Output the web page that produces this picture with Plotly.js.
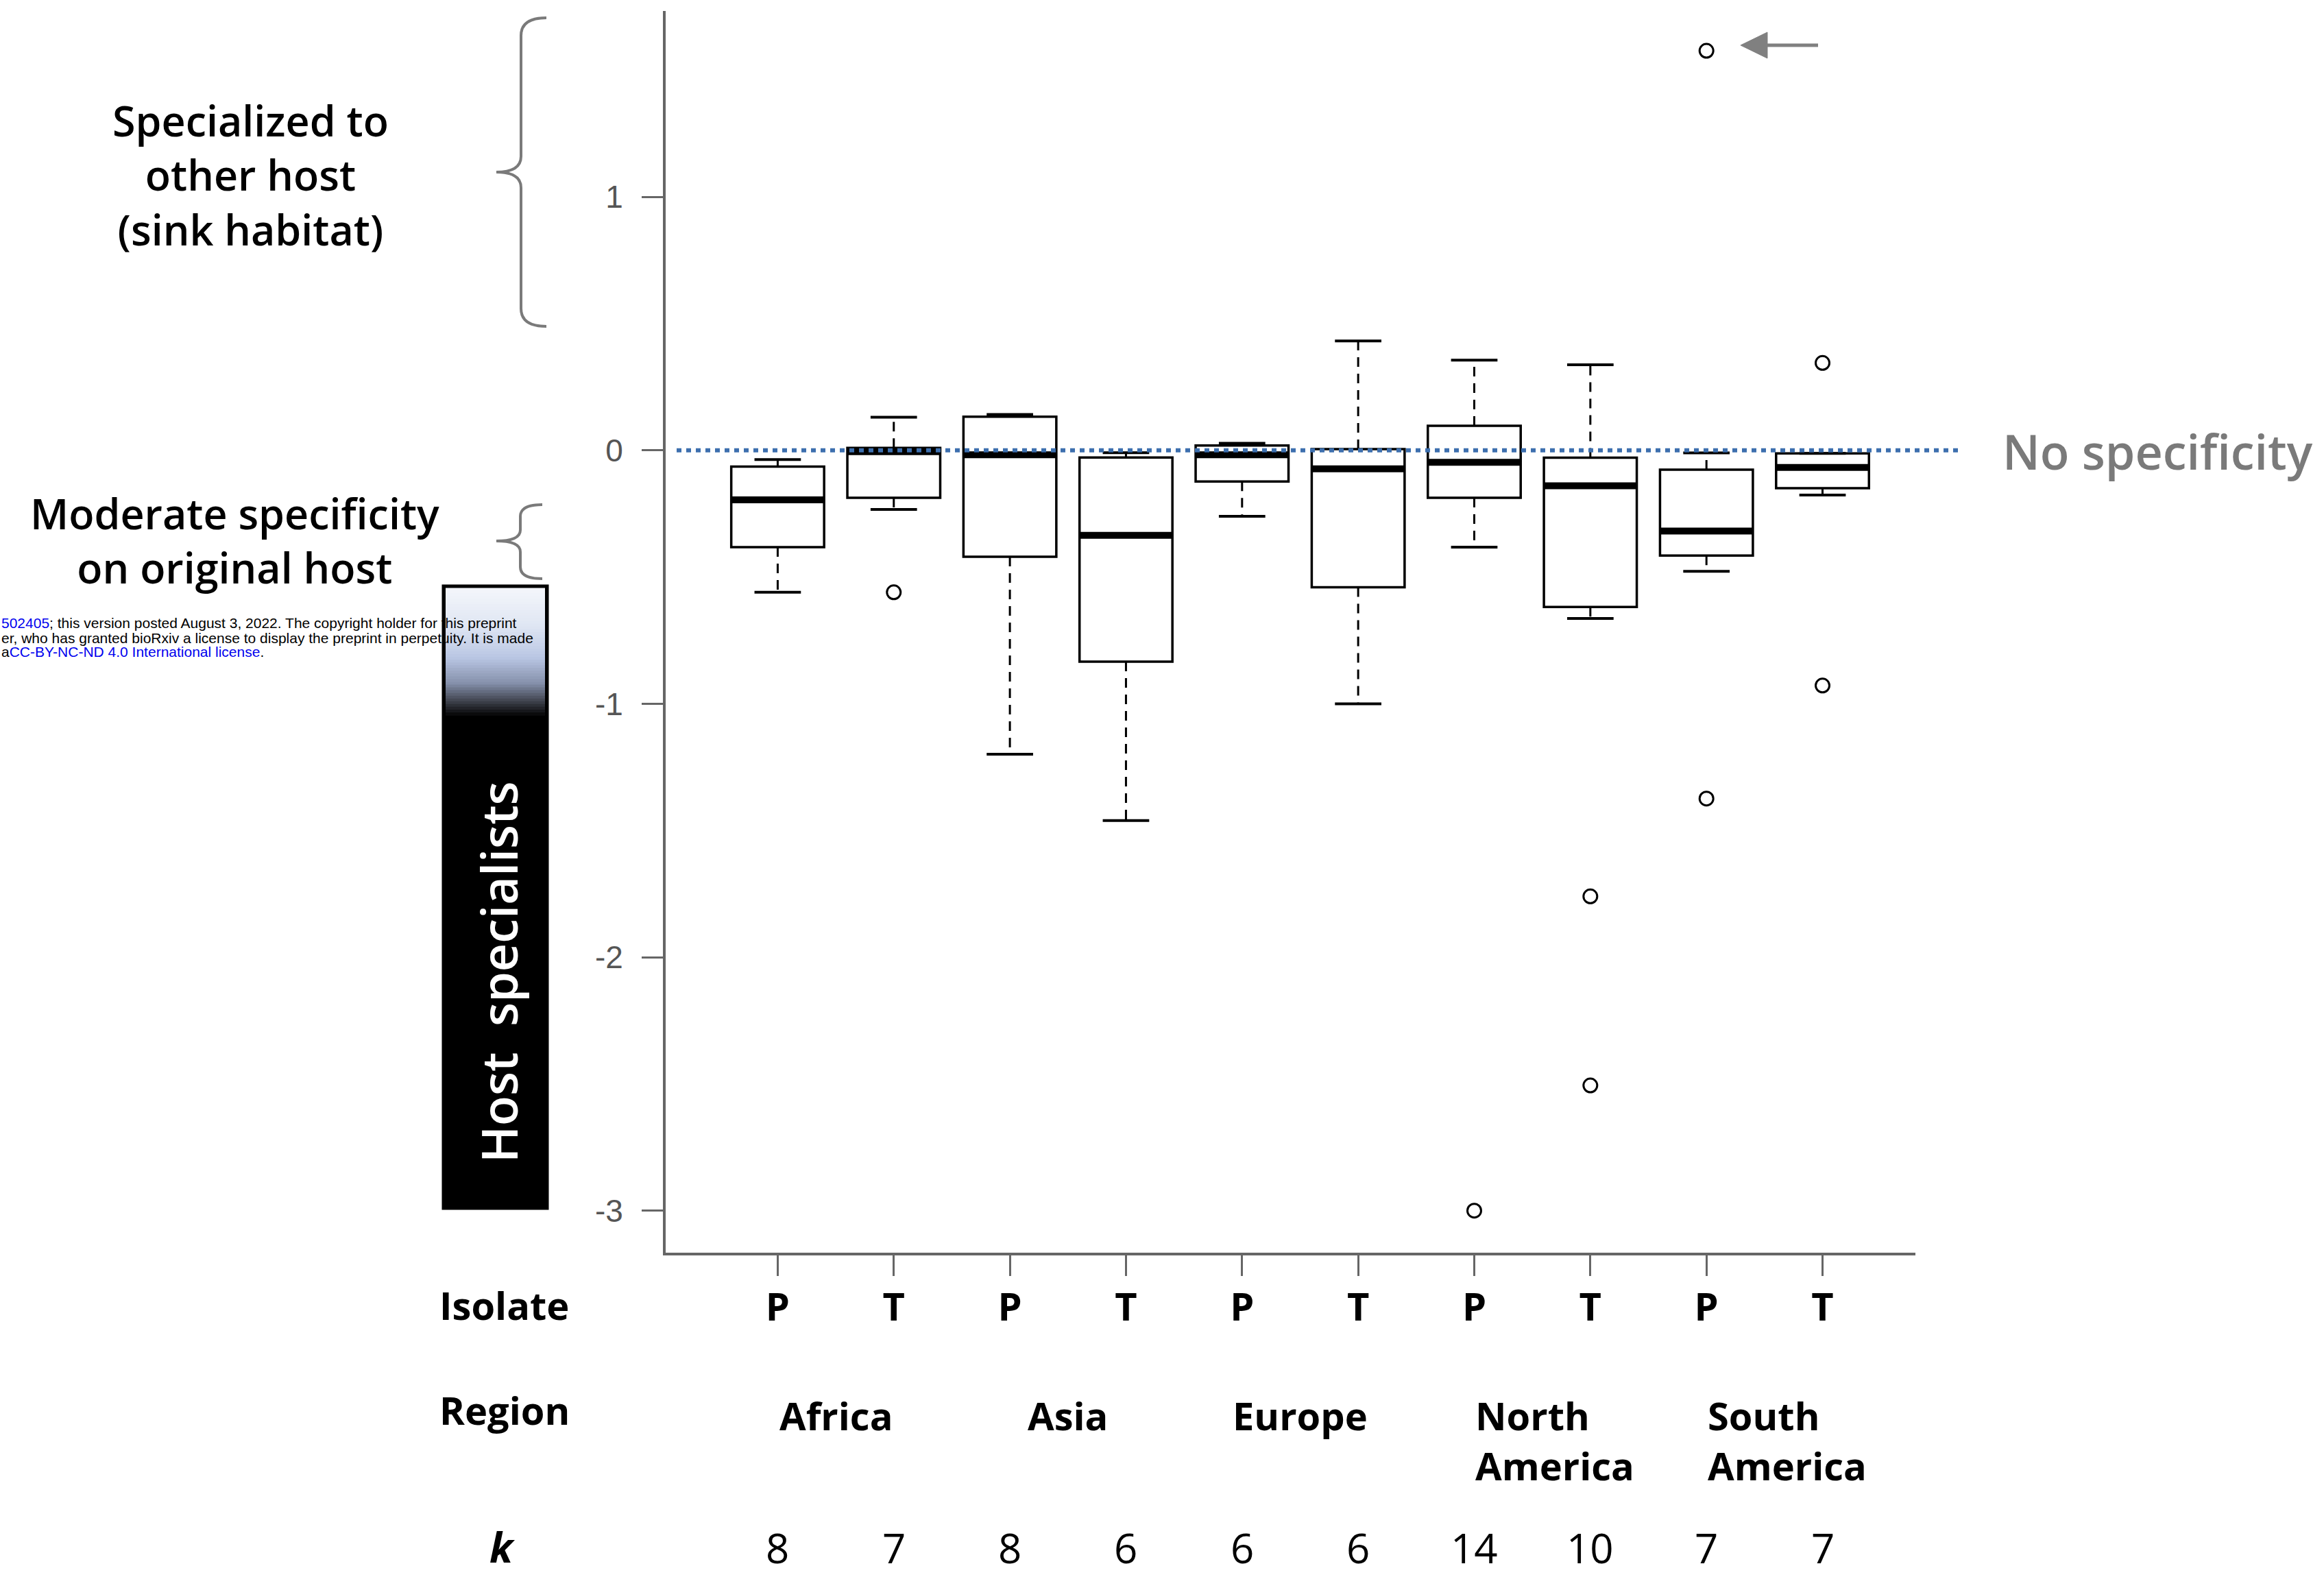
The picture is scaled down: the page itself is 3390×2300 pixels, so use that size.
<!DOCTYPE html>
<html>
<head>
<meta charset="utf-8">
<script src="https://cdn.plot.ly/plotly-3.0.1.min.js"></script>
<style>html,body{margin:0;padding:0;background:#fff;}#chart{width:3390px;height:2300px;}</style>
</head>
<body>
<div id="chart"></div>
<script>
// ---------------- data ----------------
const isolates = ['P','T','P','T','P','T','P','T','P','T'];
const regions = ['Africa','Asia','Europe','North<br>America','South<br>America'];
const kValues = [8,7,8,6,6,6,14,10,7,7];
const lowerWhisker = [-0.56,-0.233,-1.199,-1.461,-0.26,-1.0,-0.382,-0.663,-0.477,-0.176];
const q1Values     = [-0.382,-0.187,-0.42,-0.834,-0.123,-0.54,-0.187,-0.618,-0.415,-0.149];
const medianValues = [-0.195,-0.005,-0.017,-0.335,-0.017,-0.073,-0.047,-0.14,-0.318,-0.067];
const q3Values     = [-0.064,0.01,0.133,-0.028,0.019,0.005,0.097,-0.029,-0.076,-0.012];
const upperWhisker = [-0.036,0.131,0.142,-0.009,0.028,0.432,0.356,0.338,-0.01,-0.012];
const outlierBox   = [2,7,8,8,9,9,10,10];
const outlierValue = [-0.56,-3.0,-1.76,-2.506,1.577,-1.374,0.345,-0.928];
const yTickValues = [-3,-2,-1,0,1];
const yTickLabels = ['-3','-2','-1','0','1'];

// ---------------- geometry helpers (layout only) ----------------
const W = 3390, H = 2300, L = 971, R = 2794, T = 16, B = 1827;
const px = X => (X - L) / (R - L);
const py = Y => (B - Y) / (B - T);
const pos = isolates.map((_, i) => i + 1);
const halfBox = 0.4, halfCap = 0.2;

const FONT = 'Open Sans, Noto Sans, sans-serif';

// ---------------- traces ----------------
const boxTrace = {
  type: 'box', x: pos, q1: q1Values, median: medianValues, q3: q3Values,
  lowerfence: q1Values, upperfence: q3Values, width: 2 * halfBox,
  fillcolor: '#ffffff', line: {color: '#000000', width: 3.5},
  whiskerwidth: 0, boxpoints: false, hoverinfo: 'skip', showlegend: false
};

const wx = [], wy = [], cx = [], cy = [], mx = [], my = [];
pos.forEach((p, i) => {
  wx.push(p, p, null, p, p, null);
  wy.push(q3Values[i], upperWhisker[i], null, q1Values[i], lowerWhisker[i], null);
  cx.push(p - halfCap, p + halfCap, null, p - halfCap, p + halfCap, null);
  cy.push(upperWhisker[i], upperWhisker[i], null, lowerWhisker[i], lowerWhisker[i], null);
  mx.push(p - halfBox, p + halfBox, null);
  my.push(medianValues[i], medianValues[i], null);
});

const whiskers = {type: 'scatter', mode: 'lines', x: wx, y: wy, connectgaps: false,
  line: {color: '#000', width: 3, dash: '14px,10px'}, hoverinfo: 'skip', showlegend: false};
const caps = {type: 'scatter', mode: 'lines', x: cx, y: cy, connectgaps: false,
  line: {color: '#000', width: 4}, hoverinfo: 'skip', showlegend: false};
const medians = {type: 'scatter', mode: 'lines', x: mx, y: my, connectgaps: false,
  line: {color: '#000', width: 10}, hoverinfo: 'skip', showlegend: false};
const outliers = {type: 'scatter', mode: 'markers', x: outlierBox, y: outlierValue,
  marker: {symbol: 'circle-open', size: 20, color: '#000', line: {width: 3, color: '#000'}},
  hoverinfo: 'skip', showlegend: false, cliponaxis: false};

// ---------------- shapes ----------------
const shapes = [];
function pathFromPixels(pts) {
  return pts.map(s => s.replace(/(-?\d+(?:\.\d+)?),(-?\d+(?:\.\d+)?)/g,
    (m, a, b) => px(+a).toFixed(5) + ',' + py(+b).toFixed(5))).join(' ');
}
// curly braces
const braceStyle = {type: 'path', xref: 'paper', yref: 'paper', line: {color: '#7a7a7a', width: 4}, fillcolor: 'rgba(0,0,0,0)'};
shapes.push(Object.assign({}, braceStyle, {path: pathFromPixels([
  'M797,26', 'Q760,26 760,52', 'L760,228', 'Q760,251 724,251', 'Q760,251 760,274', 'L760,450', 'Q760,476 797,476'])}));
shapes.push(Object.assign({}, braceStyle, {path: pathFromPixels([
  'M791,736', 'Q759,736 759,753', 'L759,773', 'Q759,789 724,789', 'Q759,789 759,805', 'L759,827', 'Q759,844 791,844'])}));

// black bar with gradient top
shapes.push({type: 'rect', xref: 'paper', yref: 'paper', x0: px(645), x1: px(800), y0: py(853), y1: py(1764),
  fillcolor: '#000', line: {width: 0}});
const gradStops = [[0,'#f4f6fb'],[0.3,'#dfe6f3'],[0.55,'#b9c6e3'],[0.75,'#8590ab'],[0.9,'#3a3d47'],[1,'#050505']];
function hex2rgb(h){return [1,3,5].map(k=>parseInt(h.substr(k,2),16));}
function gradColor(t){
  for (let s = 1; s < gradStops.length; s++) {
    if (t <= gradStops[s][0]) {
      const a = gradStops[s-1], b = gradStops[s];
      const f = (t - a[0]) / (b[0] - a[0]);
      const ca = hex2rgb(a[1]), cb = hex2rgb(b[1]);
      return 'rgb(' + ca.map((v, k) => Math.round(v + (cb[k] - v) * f)).join(',') + ')';
    }
  }
  return gradStops[gradStops.length-1][1];
}
const gTop = 857, gBot = 1043, nBands = 46;
for (let b = 0; b < nBands; b++) {
  const y0 = gTop + (gBot - gTop) * b / nBands;
  const y1 = gTop + (gBot - gTop) * (b + 1) / nBands + 0.8;
  shapes.push({type: 'rect', xref: 'paper', yref: 'paper', x0: px(650), x1: px(795), y0: py(y0), y1: py(y1),
    fillcolor: gradColor((b + 0.5) / nBands), line: {width: 0}});
}
shapes.push({type: 'rect', xref: 'paper', yref: 'paper', x0: px(647), x1: px(798), y0: py(855), y1: py(1762),
  fillcolor: 'rgba(0,0,0,0)', line: {color: '#000', width: 5}});

// dotted "no specificity" reference line at 0
shapes.push({type: 'line', xref: 'paper', yref: 'y', x0: px(987), x1: px(2862), y0: 0, y1: 0,
  line: {color: '#3d6fae', width: 6, dash: '7px,7px'}});

// arrow pointing at the outlier
shapes.push({type: 'line', xref: 'paper', yref: 'paper', x0: px(2568), x1: px(2652), y0: py(66), y1: py(66),
  line: {color: '#808080', width: 5}});
shapes.push({type: 'path', xref: 'paper', yref: 'paper', path: pathFromPixels(['M2539,66', 'L2578,47', 'L2578,85', 'Z']),
  fillcolor: '#808080', line: {color: '#808080', width: 1}});

// ---------------- annotations ----------------
const ann = [];
function txt(text, X, Y, font, extra) {
  ann.push(Object.assign({text: text, xref: 'paper', yref: 'paper', x: px(X), y: py(Y),
    xanchor: 'center', yanchor: 'middle', showarrow: false, font: font}, extra || {}));
}
const big = {family: FONT, size: 61, color: '#000', weight: 600};
txt('Specialized to<br>other host<br>(sink habitat)', 365, 255, big);
txt('Moderate specificity<br>on original host', 342, 788, big);
txt('No specificity', 2919, 658, {family: FONT, size: 70, color: '#7a7a7a', weight: 600}, {xanchor: 'left'});
txt('Host\u00a0 specialists', 727, 1418, {family: FONT, size: 72, color: '#ffffff', weight: 600}, {textangle: -90});

const bold = {family: FONT, size: 56, color: '#000', weight: 700};
txt('Isolate', 639, 1903, bold, {xanchor: 'left'});
txt('Region', 639, 2056, bold, {xanchor: 'left'});
txt('k', 733, 2298, {family: FONT, size: 60, color: '#000', weight: 700, style: 'italic'}, {yanchor: 'bottom', borderpad: 0});

regions.forEach((r, i) => {
  if (r.indexOf('<br>') >= 0) {
    ann.push({text: r, xref: 'x', yref: 'paper', x: 2 * i + 1, y: py(2100), xanchor: 'left', yanchor: 'middle',
      align: 'left', showarrow: false, font: bold});
  } else {
    ann.push({text: r, xref: 'x', yref: 'paper', x: 2 * i + 1.5, y: py(2064), xanchor: 'center', yanchor: 'middle',
      showarrow: false, font: bold});
  }
});
kValues.forEach((k, i) => {
  ann.push({text: String(k), xref: 'x', yref: 'paper', x: pos[i], y: py(2299), xanchor: 'center', yanchor: 'bottom',
    borderpad: 0, showarrow: false, font: {family: FONT, size: 60, color: '#000'}});
});

// bioRxiv header strip
const small = {family: 'Liberation Sans, Arial, sans-serif', size: 21, color: '#000'};
txt('<span style="color:#0000ee">502405</span>; this version posted August 3, 2022. The copyright holder for this preprint', 0, 909, small, {xanchor: 'left'});
txt('er, who has granted bioRxiv a license to display the preprint in perpetuity. It is made', 0, 930, small, {xanchor: 'left'});
txt('a<span style="color:#0000ee">CC-BY-NC-ND 4.0 International license</span>.', 0, 951, small, {xanchor: 'left'});

// ---------------- layout ----------------
const layout = {
  width: W, height: H,
  margin: {l: L, r: W - R, t: T, b: H - B, pad: 0},
  paper_bgcolor: '#ffffff', plot_bgcolor: '#ffffff',
  showlegend: false,
  xaxis: {
    range: [0.035, 10.80], tickmode: 'array', tickvals: pos, ticktext: isolates,
    ticks: 'outside', ticklen: 30, tickwidth: 3, tickcolor: '#666',
    showline: true, linecolor: '#666', linewidth: 4, showgrid: false, zeroline: false,
    tickfont: {family: FONT, size: 56, color: '#000', weight: 700}, ticklabelstandoff: -2
  },
  yaxis: {
    range: [-3.166, 1.734], tickmode: 'array', tickvals: yTickValues, ticktext: yTickLabels,
    ticks: 'outside', ticklen: 31, tickwidth: 3, tickcolor: '#666',
    showline: true, linecolor: '#666', linewidth: 4, showgrid: false, zeroline: false,
    tickfont: {family: 'Liberation Sans, Arial, sans-serif', size: 46, color: '#555'}, ticklabelstandoff: 18
  },
  shapes: shapes,
  annotations: ann
};

Plotly.newPlot('chart', [boxTrace, whiskers, caps, medians, outliers], layout, {displayModeBar: false, staticPlot: true});
</script>
</body>
</html>
